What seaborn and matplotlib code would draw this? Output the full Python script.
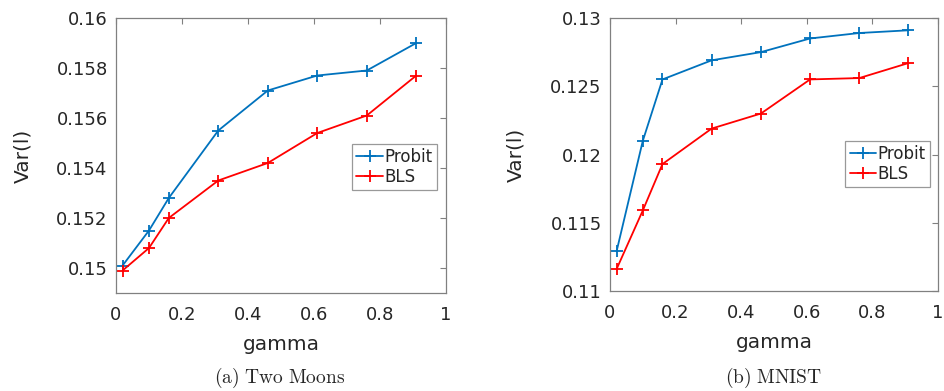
import numpy as np
import pandas as pd
import matplotlib
matplotlib.use("Agg")
import matplotlib.pyplot as plt
import seaborn as sns

# data
gamma = [0.02, 0.1, 0.16, 0.31, 0.46, 0.61, 0.76, 0.91]
moons_probit = [0.1501, 0.1515, 0.1528, 0.1555, 0.1571, 0.1577, 0.1579, 0.1590]
moons_bls = [0.1499, 0.1508, 0.1520, 0.1535, 0.1542, 0.1554, 0.1561, 0.1577]
mnist_probit = [0.1129, 0.1210, 0.1255, 0.1269, 0.1275, 0.1285, 0.1289, 0.1291]
mnist_bls = [0.1116, 0.1159, 0.1193, 0.1219, 0.1230, 0.1255, 0.1256, 0.1267]

methods = ["Probit", "BLS"]
colors = {"Probit": "#0072BD", "BLS": "#FF0000"}

def make_df(probit, bls):
    return pd.DataFrame({
        "gamma": gamma * 2,
        "var": probit + bls,
        "method": ["Probit"] * len(gamma) + ["BLS"] * len(gamma),
    })

sns.set_style("white")
plt.rcParams["font.family"] = ["DejaVu Sans"]
plt.rcParams["mathtext.fontset"] = "cm"

fig = plt.figure(figsize=(9.45, 3.91), dpi=100)
ax1 = fig.add_axes([116 / 945, 1 - 293 / 391, 330 / 945, 275 / 391])
ax2 = fig.add_axes([610 / 945, 1 - 291 / 391, 328 / 945, 273 / 391])

panels = [
    (ax1, make_df(moons_probit, moons_bls), (0.149, 0.16),
     [0.15, 0.152, 0.154, 0.156, 0.158, 0.16], ["0.15", "0.152", "0.154", "0.156", "0.158", "0.16"],
     -0.2545, (0.973, 0.458)),
    (ax2, make_df(mnist_probit, mnist_bls), (0.11, 0.13),
     [0.11, 0.115, 0.12, 0.125, 0.13], ["0.11", "0.115", "0.12", "0.125", "0.13"],
     -0.259, (0.976, 0.465)),
]

for ax, df, ylim, yticks, ylabels, ylab_x, leg_pos in panels:
    sns.lineplot(data=df, x="gamma", y="var", hue="method", style="method",
                 palette=colors, markers={"Probit": "+", "BLS": "+"}, dashes=False,
                 markersize=8.5, markeredgewidth=1.3, linewidth=1.3, ax=ax, legend=False)
    for ln in ax.lines:
        ln.set_markeredgecolor(ln.get_color())
    ax.set_xlim(0, 1)
    ax.set_ylim(*ylim)
    ax.set_xticks([0, 0.2, 0.4, 0.6, 0.8, 1])
    ax.set_xticklabels(["0", "0.2", "0.4", "0.6", "0.8", "1"])
    ax.set_yticks(yticks)
    ax.set_yticklabels(ylabels)
    ax.tick_params(direction="in", length=4, width=0.8, colors="#808080",
                   labelcolor="#262626", labelsize=13, top=True, right=True)
    ax.tick_params(axis="x", pad=9)
    ax.tick_params(axis="y", pad=6)
    for s in ax.spines.values():
        s.set_color("#808080")
        s.set_linewidth(0.9)
    ax.set_xlabel("gamma", fontsize=14.5, color="#262626", labelpad=8)
    ax.set_ylabel("Var(l)", fontsize=14.5, color="#262626")
    ax.yaxis.set_label_coords(ylab_x, 0.5)
    handles = [plt.Line2D([], [], color=colors[m], marker="+", markersize=8.5,
                          markeredgewidth=1.3, linewidth=1.3) for m in methods]
    leg = ax.legend(handles, methods, loc="center right", bbox_to_anchor=leg_pos,
                    fontsize=12, frameon=True, fancybox=False, handlelength=1.6,
                    handletextpad=0.1, borderpad=0.25, labelspacing=0.15, borderaxespad=0)
    leg.get_frame().set_edgecolor("#808080")
    leg.get_frame().set_linewidth(0.9)

fig.text(0.296, 0.02, r"$\mathrm{(a)\ Two\ Moons}$", ha="center", va="baseline", fontsize=14)
fig.text(0.819, 0.02, r"$\mathrm{(b)\ MNIST}$", ha="center", va="baseline", fontsize=14)

fig.savefig("out.png", dpi=100)
